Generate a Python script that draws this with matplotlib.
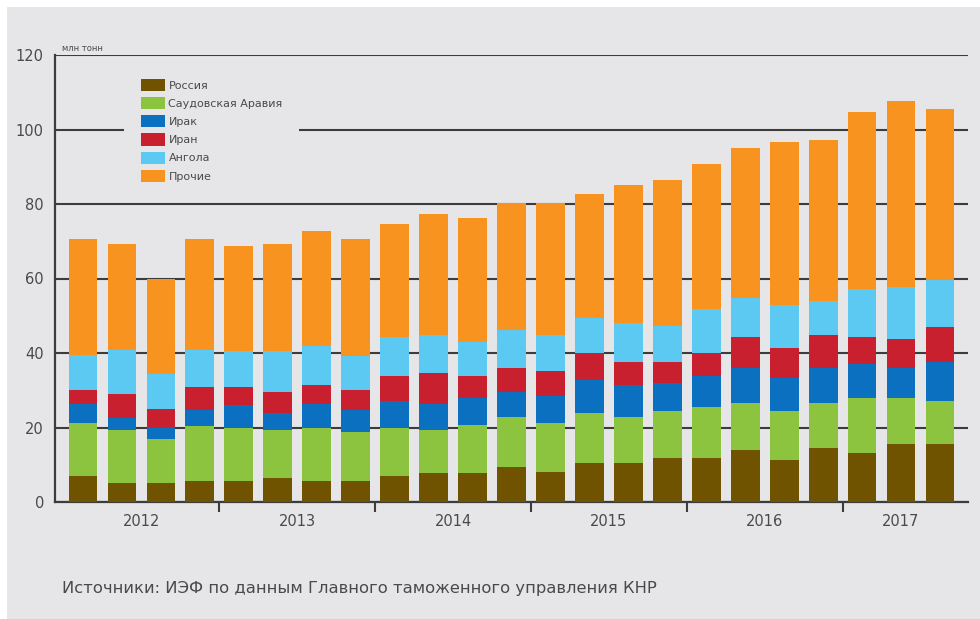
import matplotlib
matplotlib.use("Agg")
import matplotlib.pyplot as plt
import matplotlib.patches as mpatches
import numpy as np

# данные по кварталам 2012 Q1 - 2017 Q3, млн тонн
years = ['2012', '2013', '2014', '2015', '2016', '2017']
bars_per_year = [4, 4, 4, 4, 4, 3]

russia = [7.0, 5.2, 5.2, 5.7, 5.7, 6.4, 5.7, 5.7, 7.0, 7.7, 7.7, 9.5,
          8.1, 10.6, 10.6, 11.9, 11.9, 14.0, 11.3, 14.4, 13.2, 15.6, 15.6]
saudi = [14.1, 14.1, 11.6, 14.7, 14.3, 12.9, 14.3, 13.2, 13.0, 11.6, 13.0, 13.4,
         13.2, 13.4, 12.3, 12.4, 13.5, 12.7, 13.0, 12.3, 14.6, 12.2, 11.6]
iraq = [5.2, 3.2, 3.0, 4.3, 6.0, 4.7, 6.3, 5.8, 7.2, 7.0, 7.1, 6.7,
        7.2, 8.8, 8.5, 7.7, 8.4, 9.2, 8.9, 9.2, 9.2, 8.1, 10.5]
iran = [3.9, 6.5, 5.1, 6.3, 5.0, 5.6, 5.1, 5.5, 6.7, 8.2, 6.1, 6.3,
        6.7, 7.1, 6.3, 5.7, 6.1, 8.3, 8.1, 8.9, 7.2, 7.8, 9.2]
angola = [9.3, 11.8, 9.5, 9.8, 9.6, 11.0, 10.5, 9.0, 10.3, 10.3, 9.1, 10.4,
          9.6, 9.4, 10.4, 9.5, 11.8, 10.5, 11.6, 9.2, 12.9, 14.1, 12.7]
other = [31.0, 28.5, 25.6, 29.7, 28.1, 28.7, 30.9, 31.3, 30.4, 32.5, 33.2, 33.9,
         35.4, 33.4, 37.0, 39.2, 39.0, 40.2, 43.8, 43.3, 47.7, 49.9, 45.8]

series = [
    ('Россия', russia, '#6f5300'),
    ('Саудовская Аравия', saudi, '#8cc43f'),
    ('Ирак', iraq, '#0b70bf'),
    ('Иран', iran, '#c8202e'),
    ('Ангола', angola, '#5bc9f2'),
    ('Прочие', other, '#f7931e'),
]

BG = '#e6e6e8'
DARK = '#3c3c3c'
TXT = '#4a4a4a'

fig = plt.figure(figsize=(9.8, 6.19), dpi=100, facecolor='white')
fig.patches.append(mpatches.Rectangle((7 / 980, 0), 1, 1 - 7 / 619,
                                      transform=fig.transFigure,
                                      facecolor=BG, edgecolor='none', zorder=-10))
ax = fig.add_axes([55 / 980, 1 - 502 / 619, 913 / 980, 447 / 619])
ax.set_facecolor(BG)
ax.patch.set_alpha(0)

x = np.arange(len(russia))
bottom = np.zeros(len(x))
handles = []
for name, vals, col in series:
    ax.bar(x, vals, width=0.74, bottom=bottom, color=col, zorder=3, linewidth=0)
    bottom += np.array(vals)
    handles.append(mpatches.Patch(facecolor=col, label=name))

ax.set_xlim(-0.72, len(x) - 1 + 0.72)
ax.set_ylim(0, 120)
ax.set_yticks(range(0, 121, 20))
ax.yaxis.grid(True, color=DARK, linewidth=1.5)
ax.set_axisbelow(True)
ax.tick_params(axis='y', length=0, pad=8, labelsize=10.5, labelcolor=TXT)

for s in ['top', 'right']:
    ax.spines[s].set_visible(False)
ax.spines['left'].set_color(DARK)
ax.spines['left'].set_linewidth(1.6)
ax.spines['bottom'].set_color(DARK)
ax.spines['bottom'].set_linewidth(1.6)

# годовые разделители и подписи
edges = np.cumsum(bars_per_year)
seps = edges[:-1] - 0.5
starts = np.concatenate([[0], edges[:-1]])
centers = starts + (np.array(bars_per_year) - 1) / 2
ax.set_xticks(seps)
ax.set_xticklabels([])
ax.tick_params(axis='x', which='major', length=7, width=1.5, color=DARK, direction='out')
ax.set_xticks(centers, minor=True)
ax.set_xticklabels(years, minor=True)
ax.tick_params(axis='x', which='minor', length=0, pad=9, labelsize=10.5, labelcolor=TXT)

ax.text(0.008, 1.004, 'млн тонн', transform=ax.transAxes, fontsize=6,
        color=TXT, ha='left', va='bottom')

leg = ax.legend(handles=handles, loc='upper left', bbox_to_anchor=(0.0756, 0.984),
                frameon=True, facecolor=BG, edgecolor='none', framealpha=1,
                fontsize=8, labelcolor=TXT, handlelength=2.2, handleheight=1.3,
                handletextpad=0.3, labelspacing=0.55, borderpad=1.5,
                borderaxespad=0)
leg.set_zorder(5)

fig.text(62 / 980, 1 - 588 / 619,
         'Источники: ИЭФ по данным Главного таможенного управления КНР',
         fontsize=11.8, color=TXT, ha='left', va='center')

fig.savefig('out.png', dpi=100, facecolor=fig.get_facecolor())
